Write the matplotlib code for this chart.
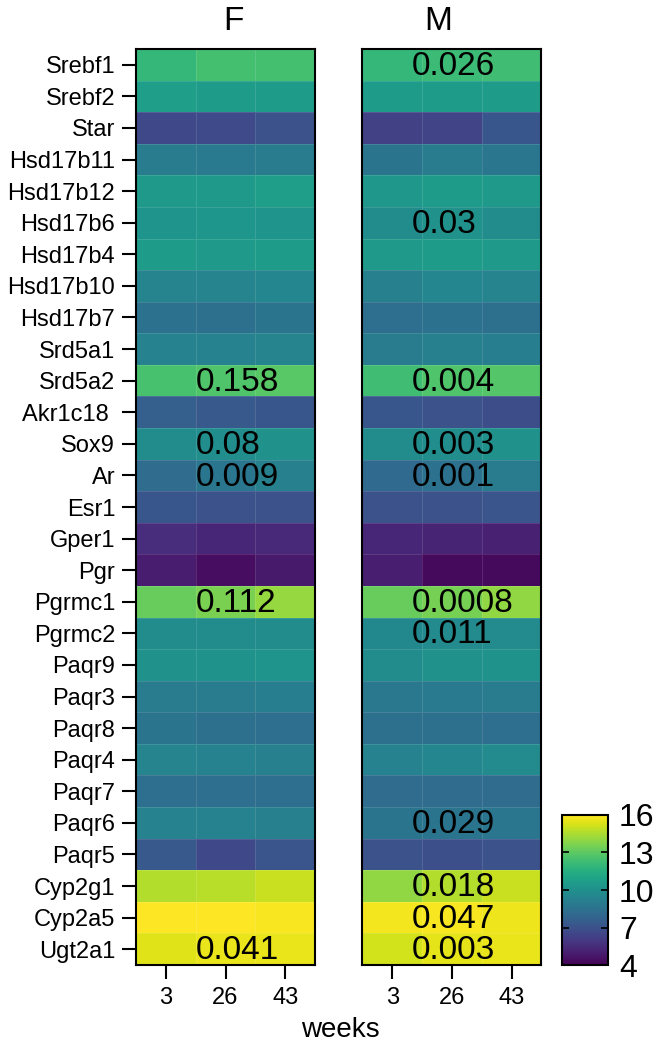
import numpy as np
import matplotlib.pyplot as plt

plt.rcParams['font.family'] = ['Liberation Sans', 'DejaVu Sans']

genes = ['Srebf1', 'Srebf2', 'Star', 'Hsd17b11', 'Hsd17b12', 'Hsd17b6', 'Hsd17b4',
         'Hsd17b10', 'Hsd17b7', 'Srd5a1', 'Srd5a2', 'Akr1c18 ', 'Sox9', 'Ar', 'Esr1',
         'Gper1', 'Pgr', 'Pgrmc1', 'Pgrmc2', 'Paqr9', 'Paqr3', 'Paqr8', 'Paqr4',
         'Paqr7', 'Paqr6', 'Paqr5', 'Cyp2g1', 'Cyp2a5', 'Ugt2a1']
weeks = ['3', '26', '43']

# expression values (rows = genes, cols = weeks 3/26/43)
female = np.array([
    [12.0, 12.4, 12.4], [10.7, 10.6, 10.6], [6.6, 6.7, 7.0], [9.0, 8.9, 9.0],
    [10.5, 10.5, 10.7], [10.2, 10.3, 10.2], [10.6, 10.5, 10.6], [9.4, 9.4, 9.5],
    [8.5, 8.4, 8.6], [9.3, 9.3, 9.4], [12.5, 12.7, 12.9], [7.6, 7.3, 7.2],
    [9.8, 9.9, 10.0], [8.2, 8.7, 9.2], [7.2, 7.0, 7.0], [5.5, 5.3, 5.4],
    [4.9, 4.4, 4.8], [13.2, 13.6, 14.1], [9.8, 9.8, 9.8], [10.0, 10.1, 10.2],
    [9.0, 9.0, 9.1], [8.6, 8.4, 8.3], [9.4, 9.3, 9.2], [8.3, 8.3, 8.3],
    [9.3, 9.3, 9.2], [7.3, 6.6, 7.1], [14.6, 14.7, 15.0], [16.0, 16.0, 15.9],
    [15.4, 15.6, 15.6]])
male = np.array([
    [12.0, 12.2, 12.3], [10.6, 10.6, 10.6], [6.3, 6.4, 7.2], [8.6, 9.0, 8.7],
    [10.4, 10.6, 10.5], [9.8, 10.0, 9.8], [10.5, 10.6, 10.5], [9.2, 9.5, 9.4],
    [8.3, 8.5, 8.4], [9.0, 9.2, 9.1], [12.3, 12.7, 12.8], [7.2, 7.0, 6.8],
    [9.8, 9.9, 10.0], [8.1, 8.5, 9.0], [7.0, 7.0, 7.1], [5.3, 5.2, 5.1],
    [5.0, 4.3, 4.3], [13.2, 13.5, 14.0], [9.6, 9.7, 9.7], [9.8, 10.0, 10.1],
    [8.8, 8.9, 9.0], [8.4, 8.4, 8.3], [9.3, 9.5, 9.7], [8.2, 8.2, 8.2],
    [8.6, 8.6, 8.7], [7.0, 6.9, 7.0], [14.0, 14.6, 15.0], [15.8, 15.9, 15.7],
    [15.2, 15.5, 15.6]])

# p-values printed on the cells
female_p = {'Srd5a2': '0.158', 'Sox9': '0.08', 'Ar': '0.009', 'Pgrmc1': '0.112',
            'Ugt2a1': '0.041'}
male_p = {'Srebf1': '0.026', 'Hsd17b6': '0.03', 'Srd5a2': '0.004', 'Sox9': '0.003',
          'Ar': '0.001', 'Pgrmc1': '0.0008', 'Pgrmc2': '0.011', 'Paqr6': '0.029',
          'Cyp2g1': '0.018', 'Cyp2a5': '0.047', 'Ugt2a1': '0.003'}

vmin, vmax = 4, 16
fig = plt.figure(figsize=(6.6, 10.47), dpi=100)
ax_f = fig.add_axes([0.2061, 0.0783, 0.2712, 0.8749])
ax_m = fig.add_axes([0.5492, 0.0783, 0.2712, 0.8749])
cax = fig.add_axes([0.8515, 0.0783, 0.0697, 0.1433])

names = [g.strip() for g in genes]
for ax, data, pvals, xoff in [(ax_f, female, female_p, 1.0), (ax_m, male, male_p, 0.83)]:
    mesh = ax.pcolormesh(np.arange(4), np.arange(len(genes) + 1), data,
                         cmap='viridis', vmin=vmin, vmax=vmax,
                         edgecolors=(1, 1, 1, 0.12), linewidth=0.6)
    ax.set_xlim(0, 3)
    ax.set_ylim(len(genes), 0)
    ax.set_xticks(np.arange(3) + 0.5)
    ax.set_xticklabels(weeks, fontsize=17)
    ax.tick_params(axis='x', length=10, width=1.5, pad=6)
    for s in ax.spines.values():
        s.set_linewidth(1.5)
    for g, txt in pvals.items():
        i = names.index(g)
        ax.text(xoff, i + 0.55, txt, ha='left', va='center', fontsize=24, color='black')

ax_f.set_yticks(np.arange(len(genes)) + 0.5)
ax_f.set_yticklabels(genes, fontsize=17)
ax_f.tick_params(axis='y', length=10, width=1.5, pad=5)
ax_m.set_yticks([])

fig.text(233 / 660, 1 - 21 / 1047, 'F', ha='center', va='center', fontsize=24)
fig.text(438 / 660, 1 - 21 / 1047, 'M', ha='center', va='center', fontsize=24)
fig.text(340 / 660, 1 - 1030 / 1047, 'weeks', ha='center', va='center', fontsize=20)

cb = fig.colorbar(mesh, cax=cax, ticks=[4, 7, 10, 13, 16])
cb.outline.set_linewidth(1.5)
cax.tick_params(axis='y', direction='in', left=True, right=True, length=5, width=1.2,
                labelsize=23, pad=8)

fig.savefig('out.png', dpi=100)
